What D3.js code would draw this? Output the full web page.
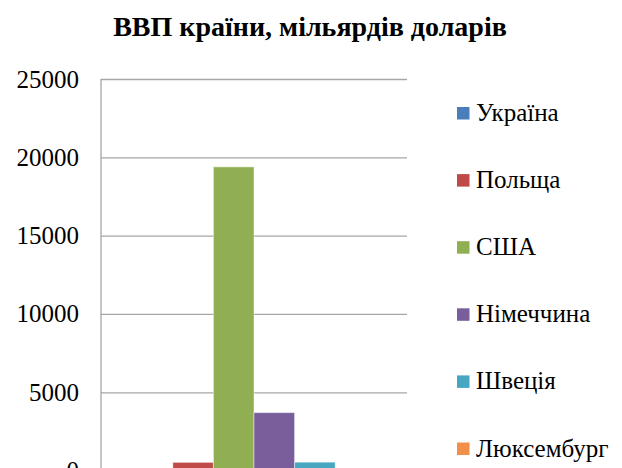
<!DOCTYPE html>
<html>
<head>
<meta charset="utf-8">
<script src="https://cdn.jsdelivr.net/npm/d3@7"></script>
</head>
<body style="margin:0;padding:0;background:#fff;overflow:hidden">
<div id="gdp"></div>
<script>
const title = "ВВП країни, мільярдів доларів";
const categories = [""];
const seriesNames = ["Україна", "Польща", "США", "Німеччина", "Швеція", "Люксембург"];
const seriesValues = [112, 526, 19390, 3700, 538, 62];
const seriesColors = ["#4A7EBB", "#BE4B48", "#8FAF52", "#7A5E9C", "#47A7C0", "#F2904A"];
const yTicks = [0, 5000, 10000, 15000, 20000, 25000];

const FONT = "'Liberation Serif', 'Times New Roman', serif";
const svg = d3.select("#gdp").append("svg").attr("width", 622).attr("height", 468)
  .style("display", "block").style("font-family", FONT);
const margin = { left: 101, right: 215, top: 79 };
const plotW = 622 - margin.left - margin.right;
const y = d3.scaleLinear().domain([0, 25000]).range([470.6, margin.top]);

const x0 = d3.scaleBand().domain(categories).range([margin.left, margin.left + plotW]).padding(0);
const x1 = d3.scaleBand().domain(seriesNames).range([0, x0.bandwidth()]).paddingInner(0).paddingOuter(0.77);

// title
svg.append("text")
  .attr("x", 310).attr("y", 36)
  .attr("text-anchor", "middle")
  .attr("font-size", 28).attr("font-weight", "bold")
  .attr("fill", "#000")
  .style("font-family", FONT)
  .text(title);

// gridlines + y axis
const yAxis = d3.axisLeft(y).tickValues(yTicks).tickSize(-plotW).tickPadding(22).tickFormat(d3.format("d"));
const gAxis = svg.append("g").attr("transform", `translate(${margin.left},0)`).call(yAxis);
gAxis.attr("font-family", null).attr("font-size", null);
gAxis.select(".domain").remove();
gAxis.selectAll(".tick line").attr("stroke", "#A6A6A6").attr("stroke-width", 1.3);
gAxis.selectAll(".tick text")
  .style("font-family", FONT)
  .style("font-size", "25px")
  .attr("fill", "#000");

// vertical axis line
svg.append("line")
  .attr("x1", margin.left).attr("x2", margin.left)
  .attr("y1", y(25000)).attr("y2", y(0))
  .attr("stroke", "#A6A6A6").attr("stroke-width", 1.3);

// bars
const data = seriesNames.map((n, i) => ({ name: n, value: seriesValues[i], color: seriesColors[i] }));
svg.append("g").selectAll("rect")
  .data(data)
  .join("rect")
  .attr("x", d => x0(categories[0]) + x1(d.name))
  .attr("width", x1.bandwidth())
  .attr("y", d => y(d.value))
  .attr("height", d => y(0) - y(d.value))
  .attr("fill", d => d.color)
  .attr("stroke", "rgba(255,255,255,0.45)")
  .attr("stroke-width", 1);

// legend
const legendY = d3.scalePoint().domain(seriesNames).range([121, 456.5]);
const lg = svg.append("g").selectAll("g")
  .data(data)
  .join("g")
  .attr("transform", d => `translate(457,${legendY(d.name)})`);
lg.append("rect")
  .attr("x", 0).attr("y", -14).attr("width", 12.5).attr("height", 12.5)
  .attr("fill", d => d.color);
lg.append("text")
  .attr("x", 19).attr("y", 0)
  .style("font-family", FONT)
  .style("font-size", "25px")
  .attr("fill", "#000")
  .text(d => d.name);
</script>
</body>
</html>
